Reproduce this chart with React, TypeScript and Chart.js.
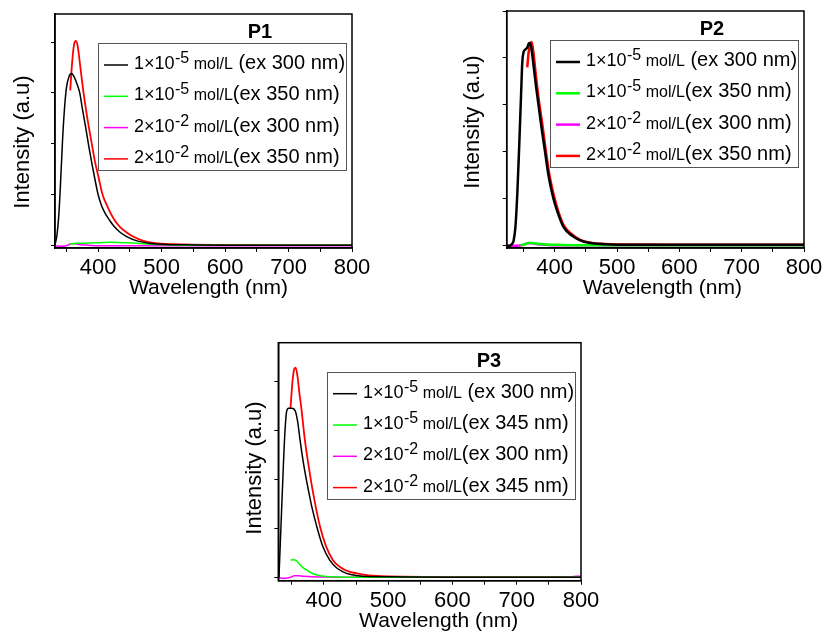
import React, { useEffect, useRef } from "react";
import { Chart, registerables } from "chart.js";

Chart.register(...registerables);

const FONT = '"Liberation Sans", Arial, Helvetica, sans-serif';

// ---------------- data ----------------
// P1
const p1BlackWl = [332, 335, 338, 341, 344, 347, 350, 354, 358, 362, 366, 371, 375, 380, 385, 390, 395, 400, 405, 410, 418, 425, 435, 445, 460, 480, 500, 550, 600, 700, 800];
const p1BlackVal = [0.02, 0.2, 0.6, 1.3, 2.1, 2.7, 3.1, 3.32, 3.38, 3.32, 3.2, 3.0, 2.7, 2.35, 1.97, 1.62, 1.3, 1.0, 0.8, 0.66, 0.5, 0.38, 0.26, 0.18, 0.1, 0.05, 0.03, 0.015, 0.01, 0.01, 0.01];
const p1GreenWl = [355, 365, 380, 400, 420, 440, 460, 480, 500, 530, 600, 700, 800];
const p1GreenVal = [0.03, 0.05, 0.05, 0.06, 0.07, 0.06, 0.05, 0.03, 0.02, 0.01, 0.01, 0.01, 0.01];
const p1MagentaWl = [332, 345, 352, 358, 364, 372, 385, 400, 450, 600, 800];
const p1MagentaVal = [0.0, -0.01, 0.01, 0.04, 0.04, 0.02, 0.01, 0.0, 0.0, 0.0, 0.0];
const p1RedWl = [356, 359, 362, 365, 368, 372, 377, 383, 390, 395, 400, 407, 415, 426, 435, 445, 455, 470, 490, 520, 600, 700, 800];
const p1RedVal = [3.05, 3.6, 3.95, 4.02, 3.9, 3.5, 3.0, 2.5, 2.0, 1.65, 1.38, 1.0, 0.76, 0.5, 0.36, 0.26, 0.18, 0.1, 0.05, 0.03, 0.015, 0.01, 0.01];

// P2
const p2BlackWl = [323, 328, 331, 334, 337, 340, 343, 346, 348, 350, 353, 356, 359, 362, 366, 370, 374, 379, 384, 390, 398, 405, 414, 427, 440, 455, 480, 500, 600, 700, 800];
const p2BlackVal = [0.0, 0.0, 0.03, 0.1, 0.4, 1.1, 2.1, 3.2, 3.9, 4.12, 4.18, 4.22, 4.32, 4.25, 3.85, 3.4, 3.0, 2.5, 2.05, 1.5, 1.0, 0.7, 0.4, 0.22, 0.12, 0.06, 0.03, 0.02, 0.02, 0.02, 0.02];
const p2GreenWl = [345, 352, 360, 368, 380, 400, 430, 500, 800];
const p2GreenVal = [0.0, 0.03, 0.06, 0.05, 0.03, 0.02, 0.01, 0.01, 0.01];
const p2MagentaWl = [323, 340, 350, 357, 364, 372, 385, 400, 450, 800];
const p2MagentaVal = [0.0, 0.0, 0.02, 0.05, 0.05, 0.03, 0.02, 0.01, 0.01, 0.01];
const p2RedWl = [356, 358, 361, 363, 366, 370, 375, 380, 385, 391, 399, 406, 415, 428, 440, 455, 480, 500, 600, 700, 800];
const p2RedVal = [3.8, 4.1, 4.3, 4.34, 4.1, 3.6, 3.05, 2.6, 2.1, 1.55, 1.05, 0.72, 0.42, 0.24, 0.13, 0.07, 0.035, 0.025, 0.02, 0.02, 0.02];

// P3
const p3BlackWl = [330, 333, 336, 339, 342, 345, 350, 355, 359, 363, 368, 372, 376, 382, 389, 398, 409, 420, 430, 440, 460, 500, 600, 700, 800];
const p3BlackVal = [0.0, 1.0, 2.0, 2.9, 3.4, 3.46, 3.46, 3.42, 3.2, 2.8, 2.35, 2.05, 1.78, 1.4, 1.04, 0.65, 0.36, 0.2, 0.12, 0.07, 0.03, 0.02, 0.01, 0.01, 0.01];
const p3GreenWl = [348, 352, 356, 362, 368, 373, 380, 388, 394, 410, 435, 500, 800];
const p3GreenVal = [0.36, 0.37, 0.36, 0.28, 0.2, 0.16, 0.1, 0.06, 0.04, 0.02, 0.01, 0.01, 0.01];
const p3MagentaWl = [329, 340, 348, 354, 360, 368, 380, 450, 600, 780, 792, 800];
const p3MagentaVal = [0.0, -0.01, 0.01, 0.04, 0.04, 0.03, 0.02, 0.01, 0.01, 0.01, 0.03, 0.03];
const p3RedWl = [348, 351, 354, 356, 359, 362, 365, 370, 378, 385, 394, 403, 414, 425, 438, 451, 470, 500, 600, 700, 800];
const p3RedVal = [3.46, 4.0, 4.27, 4.29, 4.1, 3.75, 3.45, 2.85, 2.13, 1.6, 1.04, 0.65, 0.36, 0.22, 0.13, 0.09, 0.05, 0.03, 0.02, 0.02, 0.02];

// labels
const seriesColors = ["#000000", "#00ff00", "#ff00ff", "#ff0000"];
const concBase = ["1×10", "1×10", "2×10", "2×10"];
const concExp = ["-5", "-5", "-2", "-2"];
const unitLabel = "mol/L";
const p1Excitation = ["(ex 300 nm)", "(ex 350 nm)", "(ex 300 nm)", "(ex 350 nm)"];
const p2Excitation = ["(ex 300 nm)", "(ex 350 nm)", "(ex 300 nm)", "(ex 350 nm)"];
const p3Excitation = ["(ex 300 nm)", "(ex 345 nm)", "(ex 300 nm)", "(ex 345 nm)"];
const xAxisTitle = "Wavelength (nm)";
const yAxisTitle = "Intensity (a.u)";
const xTickStep = 50;
const xLabelStep = 100;
const xMax = 800;

type Panel = {
  name: string;
  wl: number[][];
  val: number[][];
  exc: string[];
  xMin: number;
  yMin: number;
  yMax: number;
  lw: number;
  box: { left: number; top: number; w: number; h: number };
  area: { l: number; t: number; r: number; b: number };
  yTitle: { x: number; y: number };
  xTitleDx: number;
};

const panels: Panel[] = [
  {
    name: "P1",
    wl: [p1BlackWl, p1GreenWl, p1MagentaWl, p1RedWl],
    val: [p1BlackVal, p1GreenVal, p1MagentaVal, p1RedVal],
    exc: p1Excitation,
    xMin: 332, yMin: -0.045, yMax: 4.55, lw: 1.5,
    box: { left: 0, top: 0, w: 390, h: 305 },
    area: { l: 55, t: 14, r: 352, b: 248 },
    yTitle: { x: 22.5, y: 142 },
    xTitleDx: 5,
  },
  {
    name: "P2",
    wl: [p2BlackWl, p2GreenWl, p2MagentaWl, p2RedWl],
    val: [p2BlackVal, p2GreenVal, p2MagentaVal, p2RedVal],
    exc: p2Excitation,
    xMin: 323, yMin: -0.05, yMax: 5.0, lw: 2.5,
    box: { left: 440, top: 0, w: 387, h: 305 },
    area: { l: 66.7, t: 11, r: 364, b: 248 },
    yTitle: { x: 33, y: 122 },
    xTitleDx: 7,
  },
  {
    name: "P3",
    wl: [p3BlackWl, p3GreenWl, p3MagentaWl, p3RedWl],
    val: [p3BlackVal, p3GreenVal, p3MagentaVal, p3RedVal],
    exc: p3Excitation,
    xMin: 329, yMin: -0.06, yMax: 4.8, lw: 1.5,
    box: { left: 220, top: 330, w: 400, h: 304 },
    area: { l: 58.3, t: 12.7, r: 361, b: 250.7 },
    yTitle: { x: 35, y: 138 },
    xTitleDx: 9,
  },
];

function overlayPlugin(p: Panel) {
  return {
    id: "overlay" + p.name,
    afterDraw(chart: any) {
      const { ctx, chartArea: a } = chart;
      ctx.save();
      // frame
      ctx.strokeStyle = "#000";
      ctx.lineWidth = 1.5;
      ctx.strokeRect(a.left, a.top, a.right - a.left, a.bottom - a.top);

      // panel label
      ctx.fillStyle = "#000";
      ctx.font = `bold 20px ${FONT}`;
      ctx.textAlign = "center";
      ctx.textBaseline = "alphabetic";
      ctx.fillText(p.name, a.right - 92, a.top + 24);

      // legend
      const bw = 248;
      const bh = 127;
      const bx = a.right - 6 - bw;
      const by = a.top + 29;
      ctx.strokeStyle = "#555";
      ctx.lineWidth = 1;
      ctx.strokeRect(Math.round(bx) + 0.5, Math.round(by) + 0.5, bw, bh);
      ctx.textAlign = "left";
      for (let i = 0; i < 4; i++) {
        const base = by + 26 + i * 31.3;
        ctx.strokeStyle = seriesColors[i];
        ctx.lineWidth = p.lw;
        ctx.beginPath();
        ctx.moveTo(bx + 6, base - 4);
        ctx.lineTo(bx + 30, base - 4);
        ctx.stroke();
        let x = bx + 36;
        ctx.fillStyle = "#000";
        ctx.font = `18px ${FONT}`;
        ctx.fillText(concBase[i], x, base);
        x += ctx.measureText(concBase[i]).width + 0.5;
        ctx.font = `16px ${FONT}`;
        ctx.fillText(concExp[i], x, base - 6);
        x += ctx.measureText(concExp[i]).width;
        ctx.font = `16px ${FONT}`;
        const u = " " + unitLabel;
        ctx.fillText(u, x, base);
        x += ctx.measureText(u).width;
        ctx.font = `20px ${FONT}`;
        const e = (i === 0 ? " " : "") + p.exc[i];
        ctx.fillText(e, x, base);
      }

      // axis titles
      ctx.fillStyle = "#000";
      ctx.font = `21px ${FONT}`;
      ctx.textAlign = "center";
      ctx.textBaseline = "alphabetic";
      ctx.fillText(xAxisTitle, (a.left + a.right) / 2 + p.xTitleDx, a.bottom + 46);

      ctx.font = `22px ${FONT}`;
      ctx.translate(p.yTitle.x, p.yTitle.y);
      ctx.rotate(-Math.PI / 2);
      ctx.textBaseline = "middle";
      ctx.fillText(yAxisTitle, 0, 0);
      ctx.restore();
    },
  };
}

function SpectrumPanel({ p }: { p: Panel }) {
  const ref = useRef<HTMLCanvasElement | null>(null);
  useEffect(() => {
    if (!ref.current) return;
    const xHeight = 30;
    const datasets = p.wl.map((wl, i) => ({
      label: concBase[i] + concExp[i] + " " + unitLabel + " " + p.exc[i],
      data: wl.map((w, j) => ({ x: w, y: p.val[i][j] })),
      borderColor: seriesColors[i],
      backgroundColor: seriesColors[i],
      borderWidth: i === 3 && p.lw < 2 ? p.lw + 0.3 : p.lw,
      pointRadius: 0,
      fill: false,
      cubicInterpolationMode: "monotone" as const,
    }));
    const chart = new Chart(ref.current, {
      type: "line",
      data: { datasets },
      options: {
        animation: false,
        responsive: false,
        devicePixelRatio: 1,
        events: [],
        layout: {
          padding: {
            left: 0,
            top: p.area.t,
            right: p.box.w - p.area.r,
            bottom: p.box.h - p.area.b - xHeight,
          },
        },
        plugins: { legend: { display: false }, tooltip: { enabled: false }, title: { display: false } },
        scales: {
          x: {
            type: "linear",
            min: p.xMin,
            max: xMax,
            afterFit: (s: any) => { s.height = xHeight; },
            ticks: {
              stepSize: xTickStep,
              includeBounds: false,
              autoSkip: false,
              maxRotation: 0,
              minRotation: 0,
              padding: 3,
              color: "#000",
              font: { family: FONT, size: 22 },
              callback: (v: any) => (Number(v) % xLabelStep === 0 ? String(v) : ""),
            },
            grid: { display: true, drawOnChartArea: false, drawTicks: true, tickLength: 4, color: "#000", lineWidth: 1 },
            border: { display: true, color: "#000", width: 1.5 },
          },
          y: {
            type: "linear",
            min: p.yMin,
            max: p.yMax,
            afterFit: (s: any) => { s.width = p.area.l; },
            ticks: { stepSize: 1, includeBounds: false, display: false },
            grid: { display: true, drawOnChartArea: false, drawTicks: true, tickLength: 4, color: "#000", lineWidth: 1 },
            border: { display: true, color: "#000", width: 1.5 },
          },
        },
      },
      plugins: [overlayPlugin(p)],
    });
    return () => chart.destroy();
  }, [p]);
  return (
    <canvas
      ref={ref}
      width={p.box.w}
      height={p.box.h}
      style={{ position: "absolute", left: p.box.left, top: p.box.top, width: p.box.w, height: p.box.h }}
    />
  );
}

export default function App() {
  return (
    <div style={{ position: "absolute", left: 0, top: 0, width: 827, height: 634, background: "#fff", overflow: "hidden" }}>
      {panels.map((p) => (
        <SpectrumPanel key={p.name} p={p} />
      ))}
    </div>
  );
}
